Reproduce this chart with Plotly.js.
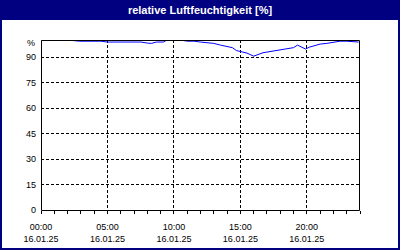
<!DOCTYPE html>
<html>
<head>
<meta charset="utf-8">
<script src="https://cdn.plot.ly/plotly-3.0.1.min.js"></script>
<style>
html,body{margin:0;padding:0;background:#fff;}
#chart{width:400px;height:250px;}
</style>
</head>
<body>
<div id="chart"></div>
<script>
// Time of day in hours (16.01.25)
const hours = [0, 1, 2, 2.9, 3.5, 4.0, 4.5, 5.0, 5.5, 6.0, 6.5, 7.0, 7.5, 8.0, 8.3, 8.7, 9.2, 9.5, 10.0, 10.5,
  11.0, 11.5, 12.0, 12.5, 13.0, 13.5, 14.0, 14.4, 14.7, 15.0, 15.5, 16.0, 16.3, 16.7, 17.0, 17.5, 18.0, 18.5,
  19.0, 19.3, 19.6, 19.9, 20.2, 20.5, 21.0, 21.5, 22.0, 22.5, 23.0, 23.5, 23.9];
// relative humidity [%]
const humidity = [100, 100, 100, 99.3, 99.3, 99.3, 99.3, 98.8, 98.8, 98.8, 98.5, 98.8, 98.8, 98.2, 98.0, 98.8, 98.8, 100, 100, 100,
  99.3, 99.3, 98.8, 98.5, 98.0, 97.0, 96.4, 95.5, 93.8, 93.2, 92.3, 90.5, 91.5, 92.5, 92.9, 93.5, 94.0, 94.5,
  95.5, 97.0, 95.8, 94.7, 95.8, 96.5, 97.6, 98.0, 98.8, 99.3, 99.3, 99.0, 98.8];

const yTickVals = [0, 15, 30, 45, 60, 75, 90];
const yTickText = ['0', '15', '30', '45', '60', '75', '90'];
const xTickVals = [0, 5, 10, 15, 20];
const xTickTimes = ['00:00', '05:00', '10:00', '15:00', '20:00'];
const xTickDate = '16.01.25';
const unitLabel = '%';
const chartTitle = 'relative Luftfeuchtigkeit [%]';

const navy = '#000080';
const fontFam = 'Liberation Sans, Arial, sans-serif';

const L = 41, R = 40, T = 40, B = 40, W = 400, H = 250;
const pw = W - L - R, ph = H - T - B;
const px = v => (v - L) / pw;
const py = v => (H - B - v) / ph;

const trace = {
  x: hours, y: humidity, type: 'scatter', mode: 'lines',
  line: {color: '#0000ff', width: 1}, hoverinfo: 'skip'
};

const layout = {
  width: W, height: H,
  margin: {l: L, r: R, t: T, b: B, pad: 0},
  paper_bgcolor: '#ffffff', plot_bgcolor: '#ffffff',
  showlegend: false,
  title: {
    text: chartTitle, xref: 'container', x: 0.5, xanchor: 'center',
    yref: 'container', y: 1 - 10 / H, yanchor: 'middle',
    font: {family: fontFam, size: 11, color: '#ffffff', weight: 'bold'}
  },
  xaxis: {
    range: [0, 24], fixedrange: true,
    tickmode: 'array', tickvals: xTickVals,
    ticktext: xTickTimes.map(t => t + '<br>' + xTickDate),
    ticks: 'outside', ticklen: 3, tickcolor: '#000', tickwidth: 1,
    ticklabelstandoff: 5,
    minor: {dtick: 1, tick0: 0, ticks: 'outside', ticklen: 3, tickcolor: '#000', showgrid: false},
    showgrid: true, gridcolor: '#000', gridwidth: 1, griddash: '3px,2px',
    showline: false, zeroline: false,
    tickfont: {family: fontFam, size: 9, color: '#000'}
  },
  yaxis: {
    range: [0, 100], fixedrange: true,
    tickmode: 'array', tickvals: yTickVals, ticktext: yTickText,
    ticks: '', ticklabelstandoff: 4,
    showgrid: true, gridcolor: '#000', gridwidth: 1, griddash: '3px,2px',
    showline: false, zeroline: false,
    tickfont: {family: fontFam, size: 9, color: '#000'}
  },
  annotations: [{
    text: unitLabel, xref: 'paper', x: 0, xanchor: 'right', xshift: -4,
    yref: 'y', y: 98, yanchor: 'middle', showarrow: false,
    font: {family: fontFam, size: 9, color: '#000'}
  }],
  shapes: [
    {type: 'rect', xref: 'paper', yref: 'paper', layer: 'below',
     x0: px(0), x1: px(W), y0: py(20), y1: py(0),
     fillcolor: navy, line: {width: 0}},
    {type: 'rect', xref: 'paper', yref: 'paper', layer: 'above',
     x0: px(L + 0.5), x1: px(W - R - 0.5), y0: py(H - B + 0.5), y1: py(T + 0.5),
     fillcolor: 'rgba(0,0,0,0)', line: {color: '#000', width: 1}},
    {type: 'rect', xref: 'paper', yref: 'paper', layer: 'above',
     x0: px(1), x1: px(W - 1), y0: py(H - 1), y1: py(1),
     fillcolor: 'rgba(0,0,0,0)', line: {color: navy, width: 2}}
  ]
};

Plotly.newPlot('chart', [trace], layout, {staticPlot: true, displayModeBar: false});
</script>
</body>
</html>
